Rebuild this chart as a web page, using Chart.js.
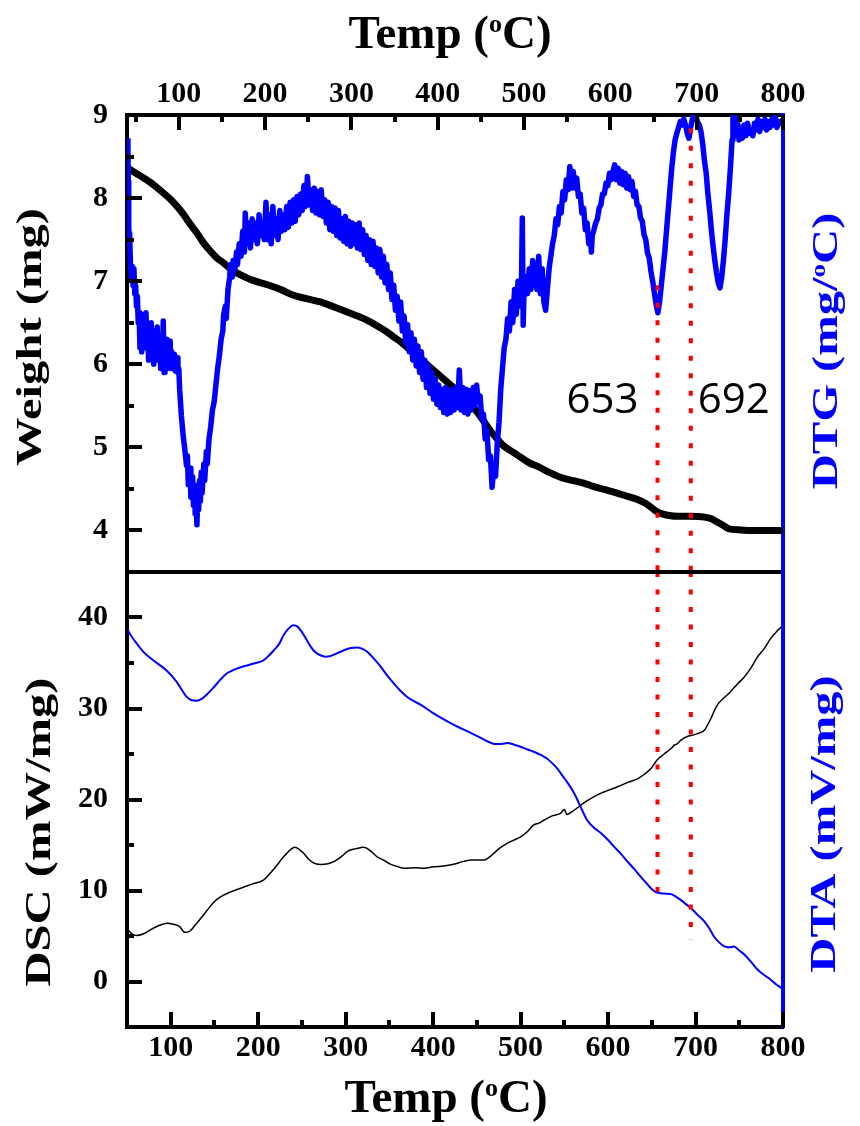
<!DOCTYPE html>
<html>
<head>
<meta charset="utf-8">
<title>TG / DTG / DSC / DTA</title>
<script src="https://cdn.jsdelivr.net/npm/chart.js@4.4.1/dist/chart.umd.min.js"></script>
<style>
  html, body { margin: 0; padding: 0; background: #fff; }
  #wrap { position: relative; width: 860px; height: 1126px; overflow: hidden; }
  canvas { position: absolute; left: 0; }
  #topChart { top: 0; }
  #bottomChart { top: 570px; }
</style>
</head>
<body>
<div id="wrap">
  <canvas id="topChart" width="860" height="574"></canvas>
  <canvas id="bottomChart" width="860" height="556"></canvas>
</div>
<script>
// ---- axis ticks ----
const tempTicks = [100, 200, 300, 400, 500, 600, 700, 800];
const tempMinorTop = [50, 150, 250, 350, 450, 550, 650, 750];
const tempMinorBottom = [150, 250, 350, 450, 550, 650, 750];
const weightTicks = [4, 5, 6, 7, 8, 9];
const weightMinor = [4.5, 5.5, 6.5, 7.5, 8.5];
const dscTicks = [0, 10, 20, 30, 40];
const dscMinor = [5, 15, 25, 35];

// ---- TG weight (mg) vs temperature ----
const weightCurve = [
  [41, 8.36], [55, 8.27], [67, 8.19], [80, 8.08], [90, 7.99], [98, 7.9], [105, 7.81], [113, 7.69],
  [121, 7.58], [128, 7.47], [136, 7.37], [144, 7.28], [152, 7.22], [162, 7.13], [171, 7.08], [186, 7.01],
  [202, 6.96], [218, 6.9], [233, 6.83], [248, 6.79], [264, 6.75], [280, 6.69], [295, 6.63], [307, 6.58],
  [318, 6.53], [330, 6.46], [341, 6.39], [350, 6.32], [357, 6.27], [366, 6.19], [376, 6.11], [385, 6.02],
  [395, 5.93], [405, 5.84], [415, 5.75], [425, 5.66], [434, 5.57], [444, 5.45], [453, 5.32], [461, 5.2],
  [469, 5.1], [475, 5.03], [483, 4.97], [492, 4.91], [505, 4.82], [518, 4.76], [531, 4.69], [545, 4.63],
  [557, 4.6], [569, 4.57], [580, 4.53], [594, 4.49], [608, 4.45], [620, 4.41], [632, 4.37], [640, 4.33],
  [647, 4.28], [653, 4.23], [660, 4.2], [668, 4.18], [678, 4.17], [692, 4.17], [709, 4.16], [717, 4.14],
  [724, 4.1], [731, 4.06], [737, 4.02], [745, 4.01], [760, 4.0], [780, 4.0], [800, 4.0]
];

// ---- DTG signal (drawn on its own right axis, same span as the weight axis) ----
const dtgCurve = [
  [41, 8.72], [41.5, 8.2], [42, 7.62], [42.5, 7.45], [43, 7.58], [44, 7.2], [45, 7.05], [46, 7.18],
  [47, 6.95], [48, 7.15], [49, 6.85], [50, 6.95], [51, 6.7], [52, 6.82], [53, 6.5], [54, 6.62],
  [55, 6.2], [56, 6.55], [57, 6.15], [58, 6.45], [59, 6.25], [60, 6.6], [61, 6.2], [62, 6.62],
  [63, 6.3], [64, 6.45], [65, 6.05], [66, 6.4], [67, 6.1], [68, 6.5], [69, 6.05], [70, 6.4],
  [71, 6.0], [72, 6.35], [74, 6.1], [75, 6.45], [76, 6.05], [78, 6.35], [79, 5.95], [80, 6.3],
  [81, 6.05], [82, 6.52], [83, 5.9], [84, 6.2], [85, 6.0], [86, 6.3], [87, 5.95], [88, 6.25],
  [89, 6.05], [90, 6.28], [91, 5.95], [92, 6.15], [94, 5.98], [95, 6.12], [96, 5.92], [98, 6.08],
  [99, 5.9], [100, 5.95], [101, 5.7], [103, 5.38], [105, 5.15], [107, 4.97], [109, 4.78], [110, 4.9],
  [111, 4.55], [113, 4.75], [114, 4.4], [116, 4.65], [117, 4.3], [118, 4.55], [119, 4.2], [120, 4.45],
  [121, 4.07], [122, 4.4], [123, 4.25], [124, 4.6], [125, 4.35], [126, 4.7], [127, 4.45], [129, 4.8],
  [130, 4.6], [132, 4.95], [133, 4.8], [135, 5.1], [137, 5.25], [139, 5.45], [141, 5.55], [143, 5.75],
  [145, 5.95], [147, 6.1], [149, 6.3], [151, 6.4], [152, 6.6], [154, 6.7], [155, 6.55], [157, 6.9],
  [159, 7.05], [160, 7.2], [162, 7.05], [163, 7.25], [165, 7.15], [167, 7.35], [168, 7.2], [170, 7.45],
  [172, 7.3], [174, 7.6], [176, 7.35], [177, 7.82], [179, 7.45], [181, 7.7], [183, 7.4], [185, 7.75],
  [187, 7.5], [189, 7.7], [191, 7.45], [193, 7.8], [195, 7.55], [197, 7.7], [199, 7.5], [201, 7.95],
  [203, 7.5], [205, 7.8], [207, 7.45], [209, 7.9], [211, 7.55], [213, 7.75], [215, 7.5], [217, 7.85],
  [219, 7.6], [221, 7.8], [223, 7.62], [225, 7.9], [227, 7.65], [229, 7.95], [231, 7.7], [233, 7.98],
  [235, 7.72], [237, 8.02], [239, 7.8], [241, 8.05], [243, 7.85], [245, 8.15], [247, 7.9], [249, 8.26],
  [251, 7.92], [253, 8.1], [255, 7.85], [257, 8.12], [259, 7.82], [261, 8.08], [263, 7.8], [265, 8.1],
  [267, 7.78], [269, 7.98], [271, 7.7], [273, 7.95], [275, 7.62], [277, 7.9], [279, 7.6], [281, 7.88],
  [283, 7.55], [285, 7.85], [287, 7.52], [289, 7.75], [291, 7.48], [293, 7.78], [295, 7.45], [297, 7.72],
  [299, 7.42], [301, 7.7], [303, 7.45], [305, 7.68], [307, 7.4], [309, 7.7], [311, 7.38], [313, 7.62],
  [315, 7.32], [317, 7.55], [319, 7.25], [321, 7.5], [323, 7.2], [325, 7.48], [327, 7.18], [329, 7.4],
  [331, 7.1], [333, 7.38], [335, 7.05], [337, 7.3], [339, 6.98], [341, 7.2], [343, 6.9], [345, 7.1],
  [347, 6.78], [349, 6.95], [351, 6.65], [353, 6.82], [355, 6.52], [357, 6.75], [359, 6.4], [361, 6.58],
  [363, 6.25], [365, 6.48], [367, 6.15], [369, 6.38], [371, 6.05], [373, 6.3], [375, 5.98], [377, 6.22],
  [379, 5.9], [381, 6.15], [383, 5.82], [385, 6.05], [387, 5.72], [389, 5.98], [391, 5.65], [393, 5.9],
  [395, 5.58], [397, 5.82], [399, 5.52], [401, 5.75], [403, 5.48], [405, 5.7], [407, 5.42], [409, 5.72],
  [411, 5.4], [413, 5.68], [415, 5.42], [417, 5.7], [419, 5.45], [421, 5.72], [423, 5.48], [425, 5.93],
  [427, 5.45], [429, 5.72], [431, 5.42], [433, 5.7], [435, 5.4], [437, 5.68], [439, 5.45], [441, 5.72],
  [443, 5.5], [445, 5.75], [447, 5.55], [449, 5.62], [451, 5.35], [453, 5.4], [455, 5.1], [457, 5.2],
  [459, 4.85], [461, 4.9], [463, 4.52], [465, 4.8], [467, 4.65], [469, 5.05], [471, 5.3], [473, 5.7],
  [475, 5.95], [477, 6.2], [479, 6.3], [481, 6.55], [483, 6.4], [485, 6.75], [487, 6.5], [489, 6.9],
  [491, 6.6], [493, 7.0], [495, 6.7], [497, 6.95], [498, 7.76], [499, 6.47], [500, 6.9], [502, 7.05],
  [504, 6.85], [506, 7.15], [508, 6.9], [510, 7.25], [511, 6.95], [513, 7.2], [515, 6.9], [517, 7.3],
  [519, 6.85], [521, 7.15], [523, 6.75], [525, 6.65], [527, 6.9], [529, 7.15], [531, 7.3], [533, 7.45],
  [535, 7.55], [537, 7.75], [539, 7.68], [541, 7.9], [543, 7.82], [545, 8.08], [547, 7.98], [549, 8.22],
  [551, 8.1], [553, 8.38], [555, 8.12], [557, 8.32], [559, 8.12], [561, 8.24], [563, 8.02], [565, 8.05],
  [567, 7.82], [569, 7.88], [571, 7.62], [573, 7.7], [575, 7.45], [577, 7.55], [578, 7.35], [579, 7.55],
  [581, 7.62], [583, 7.7], [585, 7.75], [587, 7.88], [589, 7.92], [591, 8.05], [593, 8.05], [595, 8.18],
  [597, 8.15], [599, 8.3], [601, 8.22], [603, 8.32], [605, 8.4], [607, 8.22], [609, 8.36], [611, 8.18],
  [613, 8.32], [615, 8.16], [617, 8.3], [619, 8.12], [621, 8.26], [623, 8.1], [625, 8.2], [627, 8.02],
  [629, 8.08], [631, 7.92], [633, 7.9], [635, 7.76], [637, 7.72], [639, 7.56], [641, 7.5], [643, 7.34],
  [645, 7.28], [647, 7.12], [649, 7.0], [651, 6.86], [653, 6.72], [655, 6.62], [657, 6.75], [659, 6.95],
  [661, 7.15], [663, 7.35], [665, 7.6], [667, 7.85], [669, 8.1], [671, 8.35], [673, 8.55], [675, 8.7],
  [677, 8.78], [679, 8.85], [681, 8.92], [683, 8.88], [685, 8.95], [687, 8.88], [689, 8.78], [691, 8.72],
  [693, 8.85], [695, 8.95], [697, 9.02], [699, 8.98], [701, 8.92], [703, 8.88], [705, 8.8], [707, 8.65],
  [709, 8.45], [711, 8.3], [713, 8.05], [715, 7.85], [717, 7.62], [719, 7.42], [721, 7.25], [723, 7.1],
  [725, 6.98], [727, 6.92], [729, 7.05], [731, 7.25], [733, 7.5], [735, 7.8], [737, 8.05], [739, 8.35],
  [741, 8.7], [742, 8.95], [743, 9.05], [745, 8.75], [747, 8.95], [749, 8.7], [751, 8.85], [753, 8.72],
  [755, 8.88], [757, 8.75], [759, 8.9], [761, 8.78], [763, 8.82], [765, 8.75], [767, 8.9], [769, 8.82],
  [771, 8.95], [773, 8.8], [775, 8.92], [777, 8.85], [779, 8.95], [781, 8.82], [783, 8.92], [785, 8.85],
  [787, 8.95], [789, 8.88], [791, 8.98], [793, 8.85], [795, 8.92], [797, 8.9], [800, 8.95]
];

// ---- DSC (mW/mg) ----
const dscCurve = [
  [51, 5.7], [56, 5.2], [61, 5.05], [69, 5.25], [80, 5.85], [88, 6.2], [96, 6.4], [103, 6.3],
  [110, 6.05], [116, 5.4], [122, 5.55], [128, 6.2], [139, 7.5], [150, 8.8], [158, 9.35], [165, 9.7],
  [180, 10.25], [193, 10.7], [206, 11.15], [217, 12.25], [229, 13.7], [237, 14.5], [242, 14.75], [247, 14.5],
  [252, 14.1], [258, 13.4], [264, 13.0], [273, 12.85], [287, 13.2], [296, 13.8], [302, 14.3], [312, 14.6],
  [321, 14.75], [329, 14.3], [336, 13.7], [344, 13.3], [351, 12.9], [360, 12.6], [367, 12.45], [380, 12.5],
  [390, 12.45], [400, 12.6], [412, 12.7], [422, 12.85], [435, 13.2], [444, 13.35], [458, 13.35], [466, 13.8],
  [474, 14.5], [485, 15.2], [500, 15.9], [507, 16.4], [515, 17.2], [521, 17.4], [527, 17.75], [536, 18.2],
  [546, 18.5], [550, 18.9], [553, 18.35], [558, 18.6], [572, 19.6], [582, 20.2], [592, 20.7], [600, 21.0],
  [611, 21.4], [622, 21.85], [634, 22.3], [642, 22.8], [649, 23.4], [656, 24.35], [664, 25.0], [672, 25.6],
  [676, 26.0], [679, 26.1], [683, 26.5], [690, 26.9], [698, 27.1], [704, 27.3], [710, 27.6], [716, 28.6],
  [725, 30.4], [733, 31.2], [740, 31.85], [748, 32.7], [756, 33.5], [763, 34.4], [771, 35.7], [778, 36.5],
  [786, 37.7], [793, 38.5], [798, 38.95]
];

// ---- DTA (mV/mg), right axis with the same span as DSC ----
const dtaCurve = [
  [51, 38.6], [56, 37.8], [61, 37.15], [69, 36.2], [80, 35.3], [95, 34.2], [107, 32.9], [113, 32.0],
  [118, 31.3], [124, 30.9], [130, 30.85], [136, 31.1], [141, 31.5], [147, 32.1], [153, 32.75], [158, 33.3],
  [164, 33.85], [171, 34.2], [179, 34.5], [195, 34.95], [206, 35.3], [212, 35.8], [218, 36.4], [224, 37.1],
  [229, 38.05], [235, 38.8], [240, 39.15], [245, 39.0], [250, 38.4], [255, 37.6], [260, 36.8], [265, 36.2],
  [271, 35.85], [277, 35.7], [282, 35.75], [290, 36.05], [298, 36.4], [306, 36.65], [313, 36.7], [319, 36.55],
  [325, 36.2], [332, 35.5], [340, 34.6], [347, 33.7], [355, 32.75], [362, 32.0], [370, 31.3], [378, 30.8],
  [386, 30.4], [400, 29.5], [420, 28.4], [440, 27.45], [454, 26.8], [463, 26.35], [470, 26.1], [478, 26.1],
  [485, 26.2], [492, 26.05], [500, 25.8], [508, 25.5], [515, 25.25], [523, 24.9], [530, 24.5], [536, 24.0],
  [542, 23.4], [548, 22.6], [554, 21.8], [560, 20.9], [565, 19.95], [570, 18.9], [576, 17.75], [584, 16.9],
  [592, 16.3], [600, 15.55], [607, 14.8], [615, 14.0], [622, 13.2], [630, 12.35], [637, 11.55], [644, 10.8],
  [649, 10.25], [654, 9.85], [660, 9.7], [666, 9.65], [672, 9.6], [677, 9.35], [683, 8.97], [689, 8.5],
  [695, 8.05], [702, 7.35], [710, 6.6], [716, 5.8], [721, 4.95], [727, 4.3], [733, 3.85], [738, 3.75],
  [744, 3.85], [750, 3.4], [756, 2.95], [764, 2.1], [771, 1.3], [778, 0.75], [786, 0.2], [792, -0.3],
  [798, -0.7], [800, -0.9]
];

// ---- marked peak temperatures (dotted guides) ----
const peakLabels = ['653', '692'];
const peakTempTop = [654.6, 693.2];
const peakStartTop = [6.95, 8.84];
const peakTempBottom = [656.5, 694.6];
const peakEndBottom = [8.64, 4.58];
const peakLabelTemp = [591, 743];
const peakLabelWeight = 5.56;

const serif = "'Liberation Serif', 'Times New Roman', serif";
const tickFont = { family: serif, weight: 'bold', size: 30 };
const BLUE = '#0000ff';
const RED = '#ff0000';

const pts = arr => arr.map(([x, y]) => ({ x, y }));

function fixedBox(size) {
    return scale => {
        if (scale.isHorizontal()) scale.height = size; else scale.width = size;
        scale.paddingTop = 0; scale.paddingBottom = 0;
        scale.paddingLeft = 0; scale.paddingRight = 0;
    };
}

function setTicks(values) {
    return scale => { scale.ticks = values.map(v => ({ value: v })); };
}

function axis(position, min, max, size, ticks, labelPad, extra) {
    return Object.assign({
        type: 'linear',
        position: position,
        min: min,
        max: max,
        z: 1,
        afterFit: fixedBox(size),
        afterBuildTicks: ticks ? setTicks(ticks) : undefined,
        grid: { display: true, drawOnChartArea: false, drawTicks: false },
        border: { display: true, color: '#000', width: 4 },
        ticks: {
            display: !!ticks,
            font: tickFont,
            color: '#000',
            autoSkip: false,
            maxRotation: 0,
            padding: labelPad,
            callback: v => String(v)
        }
    }, extra || {});
}

function drawTickMarks(ctx, scale, values, len) {
    const area = scale.chart.chartArea;
    ctx.save();
    ctx.strokeStyle = '#000';
    ctx.lineWidth = 4;
    values.forEach(v => {
        const p = Math.round(scale.getPixelForValue(v));
        ctx.beginPath();
        if (scale.position === 'top') {
            ctx.moveTo(p, area.top); ctx.lineTo(p, area.top + len);
        } else if (scale.position === 'bottom') {
            ctx.moveTo(p, area.bottom); ctx.lineTo(p, area.bottom - len);
        } else {
            ctx.moveTo(area.left, p); ctx.lineTo(area.left + len, p);
        }
        ctx.stroke();
    });
    ctx.restore();
}

// title with an optional superscript part, optionally rotated and stretched along its length
function drawTitle(ctx, parts, x, y, size, rotated, stretch, color) {
    const main = `bold ${size}px ${serif}`;
    const sup = `bold ${Math.round(size * 0.55)}px ${serif}`;
    ctx.save();
    ctx.fillStyle = color;
    ctx.textBaseline = 'alphabetic';
    ctx.textAlign = 'left';
    let total = 0;
    parts.forEach(p => { ctx.font = p.sup ? sup : main; total += ctx.measureText(p.text).width; });
    ctx.translate(x, y);
    if (rotated) ctx.rotate(-Math.PI / 2);
    ctx.scale(stretch, 1);
    let cx = -total / 2;
    parts.forEach(p => {
        ctx.font = p.sup ? sup : main;
        ctx.fillText(p.text, cx, p.sup ? -size * 0.34 : 0);
        cx += ctx.measureText(p.text).width;
    });
    ctx.restore();
}

const tempTitle = [{ text: 'Temp (' }, { text: 'o', sup: true }, { text: 'C)' }];

function lineSet(data, color, width, yAxisID, order, smooth) {
    return {
        data: pts(data),
        borderColor: color,
        borderWidth: width,
        pointRadius: 0,
        fill: false,
        yAxisID: yAxisID,
        order: order,
        tension: smooth ? 0.4 : 0,
        cubicInterpolationMode: smooth ? 'monotone' : 'default',
        borderJoinStyle: 'round',
        borderCapStyle: 'butt'
    };
}

function guideSet(data, yAxisID) {
    return {
        data: pts(data),
        borderColor: RED,
        borderWidth: 4,
        borderDash: [5, 12.5],
        pointRadius: 0,
        fill: false,
        yAxisID: yAxisID,
        order: 0,
        tension: 0
    };
}

const baseOptions = {
    responsive: false,
    maintainAspectRatio: false,
    animation: false,
    plugins: { legend: { display: false }, tooltip: { enabled: false } }
};

// ---- top panel: weight + DTG ----
const topDecor = {
    id: 'topDecor',
    afterDraw(chart) {
        const ctx = chart.ctx;
        const area = chart.chartArea;
        const x = chart.scales.x, y = chart.scales.y;
        drawTickMarks(ctx, x, tempTicks, 15);
        drawTickMarks(ctx, x, tempMinorTop, 7);
        drawTickMarks(ctx, y, weightTicks, 15);
        drawTickMarks(ctx, y, weightMinor, 7);

        // lower frame edge (shared with the bottom panel)
        ctx.save();
        ctx.strokeStyle = '#000';
        ctx.lineWidth = 4;
        ctx.beginPath();
        ctx.moveTo(area.left - 2, area.bottom);
        ctx.lineTo(area.right - 2, area.bottom);
        ctx.stroke();
        ctx.restore();

        // peak temperature labels
        ctx.save();
        ctx.fillStyle = '#000';
        ctx.font = "42px 'Open Sans', 'Noto Sans', sans-serif";
        ctx.textAlign = 'center';
        ctx.textBaseline = 'middle';
        peakLabels.forEach((t, i) => {
            ctx.fillText(t, x.getPixelForValue(peakLabelTemp[i]), y.getPixelForValue(peakLabelWeight));
        });
        ctx.restore();

        drawTitle(ctx, tempTitle, (area.left + area.right) / 2 - 5, 48, 47, false, 1, '#000');
        drawTitle(ctx, [{ text: 'Weight (mg)' }], 41, 337, 36, true, 1.35, '#000');
        drawTitle(ctx, [{ text: 'DTG (mg/' }, { text: 'o', sup: true }, { text: 'C)' }], 837, 351, 36, true, 1.35, BLUE);
    }
};

const topDatasets = [
    lineSet(weightCurve, '#000', 7, 'y', 3, true),
    lineSet(dtgCurve, BLUE, 5.5, 'y2', 2, false)
];
peakTempTop.forEach((t, i) => {
    topDatasets.push(guideSet([[t, peakStartTop[i]], [t, 3.5]], 'y'));
});

new Chart(document.getElementById('topChart'), {
    type: 'line',
    data: { datasets: topDatasets },
    options: Object.assign({}, baseOptions, {
        layout: { padding: { left: 0, right: 0, top: 0, bottom: 2 } },
        scales: {
            x: axis('top', 40, 800, 115, tempTicks, 3),
            y: axis('left', 3.5, 9, 127, weightTicks, 19),
            y2: axis('right', 3.5, 9, 77, null, 0, { border: { display: true, color: BLUE, width: 4 } })
        }
    }),
    plugins: [topDecor]
});

// ---- bottom panel: DSC + DTA ----
const bottomDecor = {
    id: 'bottomDecor',
    afterDraw(chart) {
        const ctx = chart.ctx;
        const area = chart.chartArea;
        const x = chart.scales.x, y = chart.scales.y;
        drawTickMarks(ctx, x, tempTicks, 15);
        drawTickMarks(ctx, x, tempMinorBottom, 7);
        drawTickMarks(ctx, y, dscTicks, 15);
        drawTickMarks(ctx, y, dscMinor, 7);

        ctx.save();
        ctx.strokeStyle = '#000';
        ctx.lineWidth = 4;
        ctx.beginPath();
        ctx.moveTo(area.left - 2, area.top);
        ctx.lineTo(area.right - 2, area.top);
        ctx.stroke();
        ctx.restore();

        drawTitle(ctx, tempTitle, (area.left + area.right) / 2 - 9, 542, 47, false, 1, '#000');
        drawTitle(ctx, [{ text: 'DSC (mW/mg)' }], 50, 262, 36, true, 1.35, '#000');
        drawTitle(ctx, [{ text: 'DTA (mV/mg)' }], 835, 254, 36, true, 1.35, BLUE);
    }
};

const bottomDatasets = [
    lineSet(dtaCurve, BLUE, 2, 'y2', 3, true),
    lineSet(dscCurve, '#000', 1.5, 'y', 2, true)
];
peakTempBottom.forEach((t, i) => {
    bottomDatasets.push(guideSet([[t, 45], [t, peakEndBottom[i]]], 'y'));
});

new Chart(document.getElementById('bottomChart'), {
    type: 'line',
    data: { datasets: bottomDatasets },
    options: Object.assign({}, baseOptions, {
        layout: { padding: { left: 0, right: 0, top: 2, bottom: 0 } },
        scales: {
            x: axis('bottom', 50, 800, 99, tempTicks, 3),
            y: axis('left', -5, 45, 127, dscTicks, 19),
            y2: axis('right', -5, 45, 77, null, 0, { border: { display: true, color: BLUE, width: 4 } })
        }
    }),
    plugins: [bottomDecor]
});
</script>
</body>
</html>
